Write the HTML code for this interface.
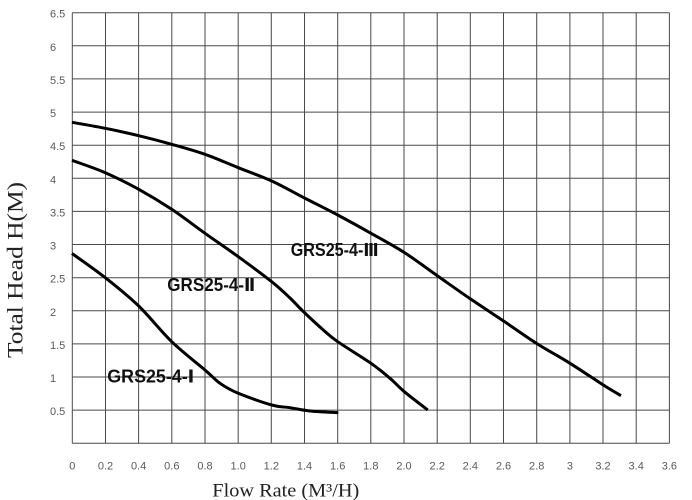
<!DOCTYPE html>
<html>
<head>
<meta charset="utf-8">
<style>
  html, body { margin: 0; padding: 0; background: #ffffff; }
  body { width: 692px; height: 500px; overflow: hidden; }
  svg { display: block; }
  .tick { font-family: "Liberation Sans", "DejaVu Sans", sans-serif; font-size: 11px; fill: #5a5a5a; }
  .lbl { font-family: "Liberation Sans", "DejaVu Sans", "Noto Sans CJK SC", sans-serif; font-size: 18px; font-weight: bold; fill: #111; }
  .title { font-family: "Liberation Serif", "Noto Serif CJK SC", serif; fill: #222; }
</style>
</head>
<body>
<svg width="692" height="500" viewBox="0 0 692 500" xmlns="http://www.w3.org/2000/svg">
  <rect x="0" y="0" width="692" height="500" fill="#ffffff"/>
  <!-- grid -->
  <g stroke="#4a4a4a" stroke-width="1" fill="none">
    <line x1="72.3" y1="12.7" x2="72.3" y2="443.3"/>
    <line x1="105.5" y1="12.7" x2="105.5" y2="443.3"/>
    <line x1="138.6" y1="12.7" x2="138.6" y2="443.3"/>
    <line x1="171.8" y1="12.7" x2="171.8" y2="443.3"/>
    <line x1="205.0" y1="12.7" x2="205.0" y2="443.3"/>
    <line x1="238.2" y1="12.7" x2="238.2" y2="443.3"/>
    <line x1="271.3" y1="12.7" x2="271.3" y2="443.3"/>
    <line x1="304.5" y1="12.7" x2="304.5" y2="443.3"/>
    <line x1="337.7" y1="12.7" x2="337.7" y2="443.3"/>
    <line x1="370.8" y1="12.7" x2="370.8" y2="443.3"/>
    <line x1="404.0" y1="12.7" x2="404.0" y2="443.3"/>
    <line x1="437.2" y1="12.7" x2="437.2" y2="443.3"/>
    <line x1="470.3" y1="12.7" x2="470.3" y2="443.3"/>
    <line x1="503.5" y1="12.7" x2="503.5" y2="443.3"/>
    <line x1="536.7" y1="12.7" x2="536.7" y2="443.3"/>
    <line x1="569.9" y1="12.7" x2="569.9" y2="443.3"/>
    <line x1="603.0" y1="12.7" x2="603.0" y2="443.3"/>
    <line x1="636.2" y1="12.7" x2="636.2" y2="443.3"/>
    <line x1="669.4" y1="12.7" x2="669.4" y2="443.3"/>

    <line x1="72.3" y1="12.7" x2="669.4" y2="12.7"/>
    <line x1="72.3" y1="45.8" x2="669.4" y2="45.8"/>
    <line x1="72.3" y1="78.9" x2="669.4" y2="78.9"/>
    <line x1="72.3" y1="112.1" x2="669.4" y2="112.1"/>
    <line x1="72.3" y1="145.2" x2="669.4" y2="145.2"/>
    <line x1="72.3" y1="178.3" x2="669.4" y2="178.3"/>
    <line x1="72.3" y1="211.4" x2="669.4" y2="211.4"/>
    <line x1="72.3" y1="244.5" x2="669.4" y2="244.5"/>
    <line x1="72.3" y1="277.7" x2="669.4" y2="277.7"/>
    <line x1="72.3" y1="310.8" x2="669.4" y2="310.8"/>
    <line x1="72.3" y1="343.9" x2="669.4" y2="343.9"/>
    <line x1="72.3" y1="377.0" x2="669.4" y2="377.0"/>
    <line x1="72.3" y1="410.1" x2="669.4" y2="410.1"/>
    <line x1="72.3" y1="443.3" x2="669.4" y2="443.3"/>
  </g>

  <!-- y tick labels -->
  <g class="tick">
    <text x="50" y="17.7">6.5</text>
    <text x="50" y="50.8">6</text>
    <text x="50" y="83.9">5.5</text>
    <text x="50" y="117.1">5</text>
    <text x="50" y="150.2">4.5</text>
    <text x="50" y="183.3">4</text>
    <text x="50" y="216.4">3.5</text>
    <text x="50" y="249.5">3</text>
    <text x="50" y="282.7">2.5</text>
    <text x="50" y="315.8">2</text>
    <text x="50" y="348.9">1.5</text>
    <text x="50" y="382.0">1</text>
    <text x="50" y="415.1">0.5</text>
  </g>

  <!-- x tick labels -->
  <g class="tick" text-anchor="middle">
    <text x="72.3" y="469.5">0</text>
    <text x="105.5" y="469.5">0.2</text>
    <text x="138.6" y="469.5">0.4</text>
    <text x="171.8" y="469.5">0.6</text>
    <text x="205.0" y="469.5">0.8</text>
    <text x="238.2" y="469.5">1.0</text>
    <text x="271.3" y="469.5">1.2</text>
    <text x="304.5" y="469.5">1.4</text>
    <text x="337.7" y="469.5">1.6</text>
    <text x="370.8" y="469.5">1.8</text>
    <text x="404.0" y="469.5">2.0</text>
    <text x="437.2" y="469.5">2.2</text>
    <text x="470.3" y="469.5">2.4</text>
    <text x="503.5" y="469.5">2.6</text>
    <text x="536.7" y="469.5">2.8</text>
    <text x="569.9" y="469.5">3</text>
    <text x="603.0" y="469.5">3.2</text>
    <text x="636.2" y="469.5">3.4</text>
    <text x="669.4" y="469.5">3.6</text>
  </g>

  <!-- curves -->
  <g fill="none" stroke="#000" stroke-width="3" stroke-linejoin="round" stroke-linecap="butt">
    <path d="M72,122.3 C77.55,123.3 94.18,126.07 105.3,128.3 C116.42,130.53 127.63,133.03 138.7,135.7 C149.77,138.37 160.65,141.2 171.7,144.3 C182.75,147.4 193.9,150.4 205,154.3 C216.1,158.2 227.18,163.25 238.3,167.7 C249.42,172.15 260.67,175.95 271.7,181 C282.73,186.05 293.5,192.33 304.5,198 C315.5,203.67 326.62,209.12 337.7,215 C348.78,220.88 359.9,227.05 371,233.3 C382.1,239.55 393.18,245.38 404.3,252.5 C415.42,259.62 426.58,268.2 437.7,276 C448.82,283.8 459.9,291.72 471,299.3 C482.1,306.88 493.35,314.13 504.3,321.5 C515.25,328.87 525.75,336.53 536.7,343.5 C547.65,350.47 558.9,356.38 570,363.3 C581.1,370.22 594.8,379.6 603.3,385 C611.8,390.4 618.05,393.92 621,395.7"/>
    <path d="M72,160.3 C77.55,162.37 94.18,167.87 105.3,172.7 C116.42,177.53 127.63,183.2 138.7,189.3 C149.77,195.4 160.65,201.97 171.7,209.3 C182.75,216.63 193.9,225.4 205,233.3 C216.1,241.2 227.18,248.63 238.3,256.7 C249.42,264.77 263.08,274.82 271.7,281.7 C280.32,288.58 284.73,293.03 290,298 C295.27,302.97 297.75,306.17 303.3,311.5 C308.85,316.83 317.57,324.97 323.3,330 C329.03,335.03 329.75,336.15 337.7,341.7 C345.65,347.25 362.28,357.2 371,363.3 C379.72,369.4 384.45,373.57 390,378.3 C395.55,383.03 398.02,386.42 404.3,391.7 C410.58,396.98 423.8,406.95 427.7,410"/>
    <path d="M72,253.5 C77.55,257.53 94.18,268.95 105.3,277.7 C116.42,286.45 127.63,295.33 138.7,306 C149.77,316.67 160.65,331.03 171.7,341.7 C182.75,352.37 196.95,363.07 205,370 C213.05,376.93 214.45,379.42 220,383.3 C225.55,387.18 229.68,389.68 238.3,393.3 C246.92,396.92 263.08,402.6 271.7,405 C280.32,407.4 283.62,406.7 290,407.7 C296.38,408.7 301.95,410.17 310,411 C318.05,411.83 333.58,412.42 338.3,412.7"/>
  </g>

  <!-- curve labels -->
  <text class="lbl" x="290.7" y="256" textLength="88" lengthAdjust="spacingAndGlyphs">GRS25-4-Ⅲ</text>
  <text class="lbl" x="167.3" y="291" textLength="88" lengthAdjust="spacingAndGlyphs">GRS25-4-Ⅱ</text>
  <text class="lbl" x="107.3" y="382.5" textLength="87" lengthAdjust="spacingAndGlyphs">GRS25-4-Ⅰ</text>

  <!-- axis titles -->
  <text class="title" x="212.3" y="496.5" font-size="19" textLength="147" lengthAdjust="spacingAndGlyphs">Flow Rate (M³/H)</text>
  <text class="title" transform="rotate(-90)" x="-358" y="22.5" font-size="22" textLength="176" lengthAdjust="spacingAndGlyphs">Total Head H(M)</text>
</svg>
</body>
</html>
